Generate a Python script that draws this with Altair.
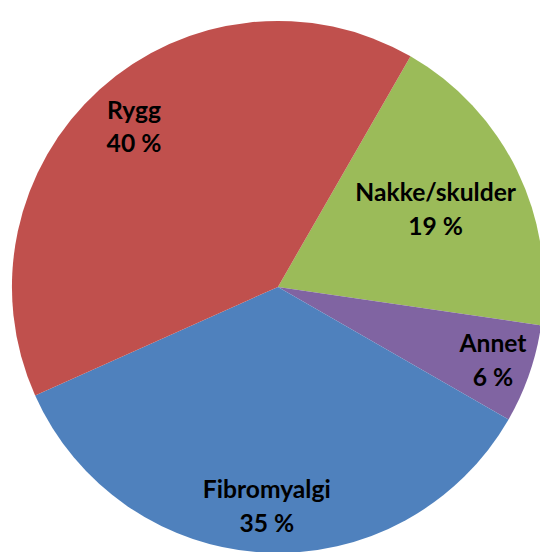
import altair as alt
import pandas as pd
import math

categories = ["Nakke/skulder", "Annet", "Fibromyalgi", "Rygg"]
values = [19, 6, 35, 40]
colors = ["#9BBB59", "#8064A2", "#4F81BD", "#C0504D"]
order = [0, 1, 2, 3]

df = pd.DataFrame({"cat": categories, "value": values, "ord": order})

start = math.radians(29.9)
theta_scale = alt.Scale(range=[start, start + 2 * math.pi])
color_scale = alt.Scale(domain=categories, range=colors)

CX, CY, R = 274, 279, 270

base = alt.Chart(df).encode(
    theta=alt.Theta("value:Q", stack=True, scale=theta_scale),
    order=alt.Order("ord:Q"),
)

pie = base.mark_arc(radius=R, stroke=None).encode(
    color=alt.Color("cat:N", scale=color_scale, legend=None),
    x=alt.value(CX),
    y=alt.value(CY),
)

label_radius = {"Nakke/skulder": 178, "Annet": 231, "Fibromyalgi": 224, "Rygg": 218}

layers = [pie]
for cat, rr in label_radius.items():
    layers.append(
        base.transform_calculate(
            label="datum.cat + '\\n' + datum.value + ' %'"
        ).mark_text(
            radius=rr,
            font="Lato",
            fontWeight="bold",
            fontSize=25,
            lineBreak="\n",
            lineHeight=34,
            align="center",
            baseline="middle",
            dy=-17,
            color="#000000",
        ).encode(
            text=alt.Text("label:N"),
            x=alt.value(CX),
            y=alt.value(CY),
            opacity=alt.condition(alt.datum.cat == cat, alt.value(1), alt.value(0)),
        )
    )

chart = alt.layer(*layers).properties(
    width=540,
    height=544,
    padding=0,
    autosize=alt.AutoSizeParams(type="none"),
).configure_view(stroke=None)

chart.save("out.html", embed_options={"renderer": "svg", "actions": False})
